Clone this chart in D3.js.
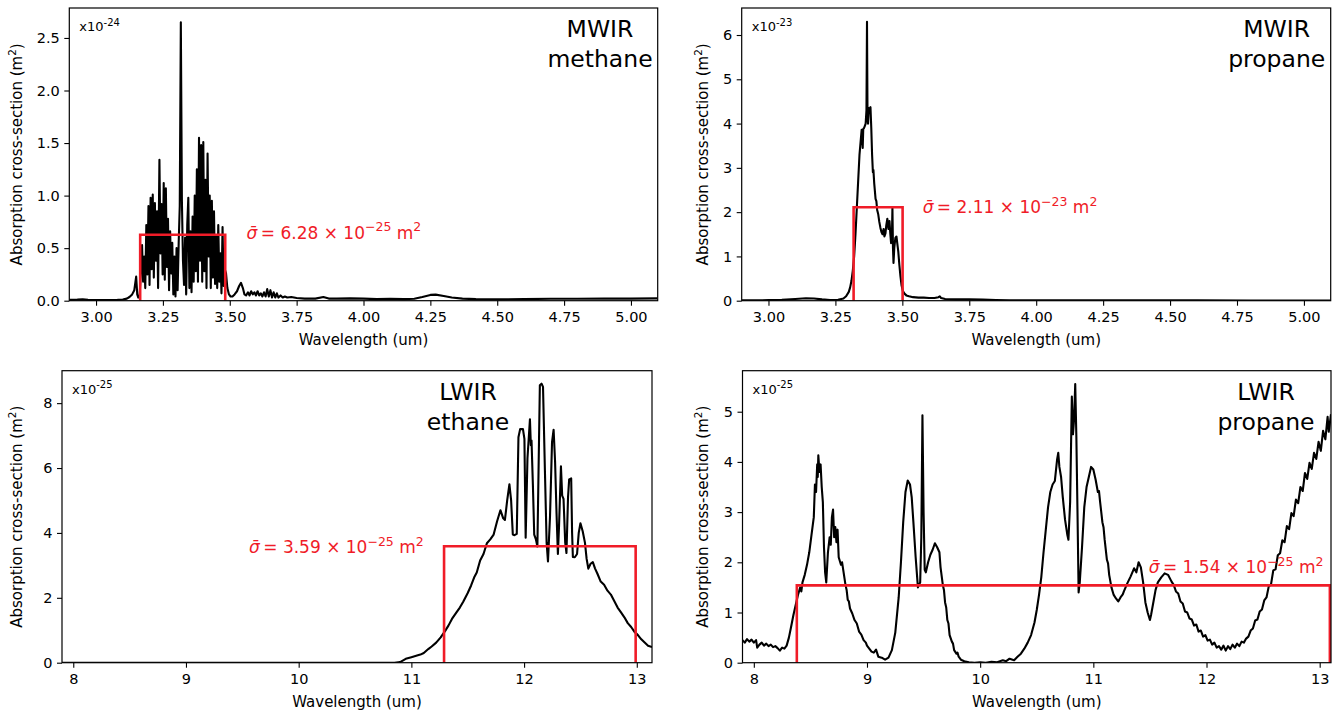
<!DOCTYPE html>
<html><head><meta charset="utf-8">
<script src="https://cdn.jsdelivr.net/npm/d3@7"></script>
<style>
body{margin:0;background:#fff}
svg{display:block}
text{font-family:"DejaVu Sans",sans-serif}
</style>
</head><body>
<svg id="c" width="1333" height="711"></svg>
<script>
// ---------------- DATA ----------------
const mwirTicks = [3.00, 3.25, 3.50, 3.75, 4.00, 4.25, 4.50, 4.75, 5.00];
const lwirTicks = [8, 9, 10, 11, 12, 13];
const methaneYTicks = [0, 0.5, 1.0, 1.5, 2.0, 2.5];
const propaneMwirYTicks = [0, 1, 2, 3, 4, 5, 6];
const ethaneYTicks = [0, 2, 4, 6, 8];
const propaneLwirYTicks = [0, 1, 2, 3, 4, 5];

// wavelength (um), cross-section (in units of the panel exponent)
const methaneSpectrum = [
[2.90,0.008],[2.93,0.010],[2.95,0.013],[2.97,0.008],[3.00,0.006],[3.05,0.006],[3.08,0.008],[3.10,0.012],[3.115,0.02],[3.125,0.035],[3.135,0.06],[3.143,0.10],[3.150,0.23],[3.154,0.06],[3.158,0.03],[3.163,0.05],
[3.168,0.30],[3.172,0.53],[3.176,0.18],[3.180,0.42],[3.184,0.12],[3.188,0.72],[3.192,0.25],[3.196,0.90],[3.200,0.15],[3.204,0.98],[3.208,0.30],[3.212,1.01],[3.216,0.22],[3.220,0.93],[3.224,0.38],[3.228,0.85],[3.232,0.12],[3.237,1.34],[3.241,0.45],[3.245,0.92],[3.249,0.25],[3.253,1.12],[3.257,0.20],[3.261,1.07],[3.265,0.32],[3.269,0.78],[3.273,0.10],[3.277,0.66],[3.281,0.26],[3.285,0.55],[3.289,0.06],[3.293,0.42],[3.297,0.04],[3.301,0.50],[3.305,0.10],[3.309,0.55],[3.313,0.90],[3.317,2.65],[3.321,0.95],[3.325,0.38],[3.329,0.15],[3.333,0.60],[3.337,0.06],[3.341,0.72],[3.345,0.98],[3.349,0.12],[3.353,0.66],[3.357,0.08],[3.361,0.80],[3.365,0.18],[3.369,1.00],[3.373,0.28],[3.377,1.25],[3.381,0.18],[3.385,1.55],[3.389,0.38],[3.393,1.48],[3.397,0.18],[3.401,1.51],[3.405,0.28],[3.409,1.15],[3.413,0.12],[3.417,1.40],[3.421,0.42],[3.425,1.00],[3.429,0.12],[3.433,0.95],[3.437,0.22],[3.441,0.85],[3.445,0.16],[3.449,0.62],[3.453,0.12],[3.457,0.72],[3.461,0.18],[3.465,0.45],[3.469,0.07],[3.473,0.70],[3.477,0.14],[3.481,0.30],[3.486,0.26],[3.491,0.12],[3.497,0.06],[3.503,0.04],[3.510,0.04],[3.518,0.06],[3.527,0.09],[3.535,0.14],[3.542,0.17],[3.549,0.12],[3.555,0.06],[3.561,0.05],[3.568,0.08],[3.574,0.05],[3.580,0.09],[3.586,0.06],[3.592,0.08],[3.598,0.05],[3.604,0.09],[3.610,0.05],[3.616,0.07],[3.622,0.04],[3.628,0.08],[3.634,0.04],[3.640,0.11],[3.646,0.04],[3.652,0.10],[3.658,0.03],[3.664,0.08],[3.670,0.03],[3.676,0.07],[3.682,0.03],[3.690,0.05],[3.698,0.03],[3.706,0.04],[3.715,0.03],[3.73,0.035],[3.75,0.025],[3.78,0.02],[3.82,0.02],[3.85,0.035],[3.87,0.02],[3.90,0.02],[3.95,0.022],[4.00,0.02],[4.05,0.015],[4.10,0.018],[4.15,0.015],[4.19,0.018],[4.22,0.035],[4.25,0.055],[4.27,0.058],[4.30,0.045],[4.33,0.03],[4.37,0.02],[4.42,0.015],[4.50,0.013],[4.60,0.015],[4.70,0.018],[4.80,0.018],[4.90,0.02],[5.00,0.02],[5.10,0.022]
];

const propaneMwirSpectrum = [
[2.90,0.01],[2.95,0.01],[3.00,0.012],[3.05,0.02],[3.10,0.04],[3.14,0.055],[3.17,0.05],[3.20,0.03],[3.23,0.015],[3.26,0.02],[3.28,0.05],[3.29,0.10],[3.30,0.20],[3.305,0.30],[3.31,0.45],[3.315,0.68],[3.32,1.00],[3.325,1.50],[3.330,2.10],[3.335,2.70],[3.340,3.30],[3.345,3.65],[3.348,3.86],[3.350,3.70],[3.352,3.45],[3.354,3.88],[3.357,3.90],[3.360,3.95],[3.363,4.00],[3.366,4.30],[3.368,6.30],[3.370,4.10],[3.372,4.00],[3.375,4.35],[3.378,4.30],[3.381,4.37],[3.384,3.90],[3.387,3.30],[3.390,2.90],[3.392,2.95],[3.395,2.65],[3.400,2.30],[3.403,2.25],[3.406,2.05],[3.410,1.95],[3.414,1.78],[3.418,1.65],[3.422,1.55],[3.426,1.50],[3.430,1.62],[3.433,1.45],[3.437,1.52],[3.440,1.70],[3.444,1.85],[3.448,1.62],[3.452,1.80],[3.455,1.52],[3.458,1.30],[3.461,1.40],[3.463,2.10],[3.465,1.20],[3.467,0.85],[3.470,1.20],[3.474,1.42],[3.478,1.45],[3.481,1.30],[3.485,1.10],[3.489,0.80],[3.493,0.55],[3.497,0.35],[3.502,0.22],[3.508,0.16],[3.515,0.12],[3.525,0.10],[3.54,0.08],[3.56,0.07],[3.58,0.07],[3.60,0.06],[3.62,0.06],[3.635,0.08],[3.64,0.10],[3.645,0.06],[3.66,0.04],[3.70,0.03],[3.75,0.03],[3.80,0.025],[3.85,0.015],[3.90,0.01],[4.00,0.008],[4.20,0.01],[4.40,0.008],[4.60,0.008],[4.80,0.006],[5.10,0.006]
];

const ethaneSpectrum = [
[7.90,0],[8.50,0],[9.00,0],[10.00,0],[10.50,0],[10.85,0],[10.90,0.02],[10.95,0.12],[11.00,0.17],[11.05,0.22],[11.08,0.25],[11.11,0.30],[11.15,0.42],[11.18,0.50],[11.22,0.62],[11.26,0.78],[11.30,0.98],[11.33,1.15],[11.36,1.35],[11.40,1.55],[11.43,1.70],[11.46,1.88],[11.50,2.15],[11.53,2.38],[11.56,2.65],[11.58,2.78],[11.61,3.15],[11.64,3.35],[11.67,3.68],[11.70,3.80],[11.73,3.95],[11.76,4.35],[11.79,4.70],[11.815,4.45],[11.83,4.40],[11.85,5.00],[11.87,5.50],[11.885,5.00],[11.90,3.95],[11.915,3.93],[11.935,3.97],[11.95,6.95],[11.965,7.20],[11.99,7.20],[12.003,6.90],[12.014,3.85],[12.03,6.30],[12.052,7.50],[12.06,6.70],[12.066,6.85],[12.078,5.50],[12.09,3.95],[12.105,3.80],[12.118,3.58],[12.14,8.55],[12.155,8.60],[12.168,8.50],[12.185,5.90],[12.20,3.70],[12.212,3.12],[12.23,4.50],[12.248,6.80],[12.262,7.18],[12.275,6.20],[12.288,4.60],[12.30,3.35],[12.31,4.20],[12.327,6.05],[12.338,5.15],[12.35,5.05],[12.365,3.70],[12.376,3.38],[12.39,5.10],[12.40,5.65],[12.418,5.68],[12.426,4.00],[12.433,3.26],[12.45,3.25],[12.47,3.35],[12.485,4.00],[12.50,4.30],[12.52,4.05],[12.54,3.70],[12.555,3.20],[12.57,2.90],[12.59,3.05],[12.61,3.10],[12.63,2.90],[12.65,2.75],[12.68,2.50],[12.71,2.40],[12.74,2.22],[12.77,2.10],[12.80,1.90],[12.83,1.70],[12.86,1.55],[12.89,1.40],[12.92,1.22],[12.95,1.10],[12.98,0.95],[13.01,0.85],[13.04,0.72],[13.07,0.62],[13.10,0.52],[13.135,0.48]
];

const propaneLwirSpectrum = [
[7.90,0.45],[7.92,0.40],[7.94,0.47],[7.96,0.42],[7.98,0.46],[8.00,0.40],[8.02,0.45],[8.03,0.30],[8.05,0.36],[8.07,0.40],[8.09,0.34],[8.11,0.38],[8.13,0.33],[8.15,0.36],[8.17,0.31],[8.19,0.33],[8.21,0.29],[8.23,0.24],[8.25,0.30],[8.27,0.28],[8.29,0.34],[8.31,0.50],[8.33,0.72],[8.35,0.95],[8.37,1.15],[8.39,1.35],[8.41,1.50],[8.42,1.42],[8.43,1.60],[8.45,1.75],[8.47,1.95],[8.49,2.20],[8.51,2.55],[8.53,2.90],[8.54,3.55],[8.55,3.40],[8.56,3.95],[8.565,3.70],[8.57,4.13],[8.58,3.80],[8.59,3.95],[8.60,3.50],[8.61,3.20],[8.62,2.30],[8.63,1.80],[8.64,1.60],[8.655,2.20],[8.67,2.50],[8.68,2.35],[8.69,2.90],[8.70,3.05],[8.71,2.50],[8.72,2.70],[8.73,2.40],[8.74,2.65],[8.75,2.10],[8.77,1.95],[8.78,2.00],[8.79,1.85],[8.81,1.55],[8.82,1.45],[8.83,1.25],[8.84,1.22],[8.85,1.08],[8.87,0.98],[8.89,0.85],[8.91,0.78],[8.93,0.62],[8.95,0.56],[8.97,0.45],[8.99,0.40],[9.00,0.34],[9.02,0.28],[9.04,0.22],[9.06,0.20],[9.08,0.26],[9.10,0.12],[9.13,0.10],[9.16,0.06],[9.19,0.10],[9.22,0.25],[9.25,0.60],[9.28,1.30],[9.30,2.00],[9.32,2.80],[9.34,3.40],[9.36,3.63],[9.38,3.55],[9.395,3.30],[9.41,2.80],[9.43,2.10],[9.45,1.50],[9.47,1.60],[9.48,2.50],[9.49,4.93],[9.50,3.00],[9.51,1.85],[9.52,1.80],[9.54,2.00],[9.56,2.15],[9.58,2.25],[9.60,2.38],[9.62,2.30],[9.64,2.20],[9.65,1.90],[9.67,1.55],[9.68,1.45],[9.69,1.20],[9.70,1.10],[9.71,0.85],[9.72,0.78],[9.73,0.55],[9.75,0.42],[9.76,0.38],[9.77,0.25],[9.79,0.18],[9.80,0.20],[9.81,0.12],[9.83,0.06],[9.86,0.03],[9.90,0.01],[9.95,0.00],[10.00,0.01],[10.05,0.00],[10.10,0.02],[10.15,0.01],[10.20,0.05],[10.23,0.03],[10.26,0.08],[10.30,0.05],[10.33,0.12],[10.36,0.18],[10.39,0.28],[10.42,0.40],[10.45,0.55],[10.48,0.80],[10.50,1.05],[10.52,1.35],[10.54,1.70],[10.56,2.20],[10.58,2.65],[10.60,3.10],[10.62,3.40],[10.64,3.55],[10.66,3.62],[10.68,4.05],[10.69,4.18],[10.70,3.90],[10.715,3.70],[10.73,3.30],[10.75,2.85],[10.77,2.55],[10.78,2.45],[10.795,3.20],[10.81,5.30],[10.82,4.55],[10.83,4.85],[10.84,5.55],[10.85,4.50],[10.86,3.00],[10.87,1.40],[10.88,1.60],[10.90,2.30],[10.92,3.10],[10.94,3.50],[10.96,3.70],[10.98,3.90],[11.00,3.85],[11.02,3.65],[11.04,3.40],[11.05,3.42],[11.06,3.20],[11.08,2.80],[11.09,2.70],[11.10,2.45],[11.12,2.05],[11.13,1.98],[11.14,1.75],[11.16,1.50],[11.18,1.35],[11.20,1.28],[11.22,1.22],[11.24,1.30],[11.26,1.36],[11.27,1.42],[11.30,1.58],[11.33,1.72],[11.36,1.88],[11.38,1.80],[11.40,2.00],[11.42,1.90],[11.44,1.60],[11.46,1.20],[11.48,1.00],[11.50,0.85],[11.51,0.95],[11.53,1.20],[11.55,1.45],[11.57,1.60],[11.60,1.70],[11.63,1.78],[11.66,1.75],[11.69,1.62],[11.71,1.55],[11.73,1.42],[11.75,1.38],[11.77,1.22],[11.79,1.18],[11.81,1.02],[11.83,1.00],[11.85,0.88],[11.87,0.86],[11.89,0.74],[11.91,0.76],[11.93,0.62],[11.95,0.64],[11.97,0.52],[11.99,0.55],[12.01,0.44],[12.03,0.46],[12.05,0.36],[12.07,0.40],[12.09,0.30],[12.11,0.33],[12.13,0.26],[12.15,0.34],[12.17,0.24],[12.19,0.33],[12.21,0.27],[12.23,0.36],[12.25,0.30],[12.27,0.38],[12.29,0.33],[12.31,0.42],[12.33,0.40],[12.35,0.48],[12.37,0.52],[12.39,0.64],[12.41,0.68],[12.43,0.84],[12.45,0.86],[12.47,1.02],[12.49,1.06],[12.51,1.24],[12.53,1.30],[12.55,1.52],[12.57,1.56],[12.59,1.84],[12.61,1.86],[12.63,2.14],[12.65,2.18],[12.67,2.44],[12.69,2.40],[12.71,2.72],[12.73,2.66],[12.75,2.98],[12.77,2.92],[12.79,3.25],[12.81,3.18],[12.83,3.50],[12.85,3.42],[12.87,3.78],[12.89,3.66],[12.91,3.98],[12.93,3.86],[12.95,4.18],[12.97,4.06],[12.99,4.40],[13.01,4.22],[13.03,4.62],[13.05,4.45],[13.07,4.90],[13.08,4.60],[13.10,4.95]
];

// averaging bands [start, end] (um) and mean cross-sections
const methaneBand = [3.165, 3.483];       const methaneMean = 0.628;
const propaneMwirBand = [3.318, 3.501];   const propaneMwirMean = 2.11;
const ethaneBand = [11.29, 12.99];        const ethaneMean = 3.59;
const propaneLwirBand = [8.38, 13.09];    const propaneLwirMean = 1.54;

// ---------------- LAYOUT ----------------
const RED = "#f01c28";
const panels = [
  {box:[69.3, 8, 657.7, 300.7], xd:[2.9, 5.1], ymax:2.785, xt:mwirTicks, xf:d3.format(".2f"), yt:methaneYTicks, yf:d3.format(".1f"),
   data:methaneSpectrum, band:methaneBand, mean:methaneMean, exp:"-24", mant:"6.28", mexp:"\u221225",
   title:["MWIR","methane"], tcx:530.7, note:[3.563, 0.59], ylabX:22},
  {box:[741.7, 8, 1330.7, 300.7], xd:[2.9, 5.1], ymax:6.61, xt:mwirTicks, xf:d3.format(".2f"), yt:propaneMwirYTicks, yf:d3.format("d"),
   data:propaneMwirSpectrum, band:propaneMwirBand, mean:propaneMwirMean, exp:"-23", mant:"2.11", mexp:"\u221223",
   title:["MWIR","propane"], tcx:535, note:[3.576, 1.98], ylabX:708},
  {box:[62, 370.7, 652, 662.7], xd:[7.9, 13.135], ymax:9.0, xt:lwirTicks, xf:d3.format("d"), yt:ethaneYTicks, yf:d3.format("d"),
   data:ethaneSpectrum, band:ethaneBand, mean:ethaneMean, exp:"-25", mant:"3.59", mexp:"\u221225",
   title:["LWIR","ethane"], tcx:406, note:[9.56, 3.38], ylabX:22},
  {box:[742.5, 370.7, 1331, 662.7], xd:[7.9, 13.1], ymax:5.817, xt:lwirTicks, xf:d3.format("d"), yt:propaneLwirYTicks, yf:d3.format("d"),
   data:propaneLwirSpectrum, band:propaneLwirBand, mean:propaneLwirMean, exp:"-25", mant:"1.54", mexp:"\u221225",
   title:["LWIR","propane"], tcx:523.5, note:[11.49, 1.78], ylabX:708}
];

const svg = d3.select("#c");
svg.append("rect").attr("width",1333).attr("height",711).attr("fill","#fff");

panels.forEach((p, i) => {
  const [L, T, R, B] = p.box;
  const x = d3.scaleLinear().domain(p.xd).range([L, R]);
  const y = d3.scaleLinear().domain([0, p.ymax]).range([B, T]);
  const g = svg.append("g");

  const clipId = "clip" + i;
  svg.append("defs").append("clipPath").attr("id", clipId)
    .append("rect").attr("x", L).attr("y", T - 2).attr("width", R - L).attr("height", B - T + 2);

  // spectrum
  const line = d3.line().x(d => x(d[0])).y(d => y(d[1]));
  g.append("path").datum(p.data).attr("clip-path", `url(#${clipId})`)
    .attr("d", line).attr("fill", "none").attr("stroke", "#000")
    .attr("stroke-width", 2.1).attr("stroke-linejoin", "round");

  // band box (mean over band)
  const boxPts = [[p.band[0], 0], [p.band[0], p.mean], [p.band[1], p.mean], [p.band[1], 0]];
  g.append("path").datum(boxPts).attr("clip-path", `url(#${clipId})`)
    .attr("d", line).attr("fill", "none").attr("stroke", RED)
    .attr("stroke-width", 2.6).attr("stroke-linejoin", "miter");

  // axes
  const xa = d3.axisBottom(x).tickValues(p.xt).tickFormat(p.xf).tickSize(5).tickPadding(6.3);
  const ya = d3.axisLeft(y).tickValues(p.yt).tickFormat(p.yf).tickSize(5).tickPadding(4.5);
  const gx = g.append("g").attr("transform", `translate(0,${B})`).call(xa);
  const gy = g.append("g").attr("transform", `translate(${L},0)`).call(ya);
  [gx, gy].forEach(a => {
    a.select(".domain").remove();
    a.selectAll("line").attr("stroke", "#000").attr("stroke-width", 1.1);
    a.selectAll("text").attr("fill", "#000").style("font-size", "14.5px").style("font-family", '"DejaVu Sans", sans-serif');
  });

  // frame
  g.append("rect").attr("x", L).attr("y", T).attr("width", R - L).attr("height", B - T)
    .attr("fill", "none").attr("stroke", "#000").attr("stroke-width", 1.2);

  // exponent label
  const ex = g.append("text").attr("x", L + 10).attr("y", T + 23).style("font-size", "13px").attr("fill", "#000");
  ex.append("tspan").text("x10");
  ex.append("tspan").attr("dy", -5.5).style("font-size", "10px").text(p.exp);

  // title
  const cx = L + p.tcx;
  p.title.forEach((t, k) => {
    g.append("text").attr("x", cx).attr("y", T + 29 + 30 * k).attr("text-anchor", "middle")
      .style("font-size", "23.5px").attr("fill", "#000").text(t);
  });

  // mean annotation
  const nt = g.append("text").attr("x", x(p.note[0])).attr("y", y(p.note[1]))
    .style("font-size", "17px").attr("fill", RED);
  nt.append("tspan").style("font-style", "italic").text("\u03C3\u0304");
  nt.append("tspan").text("\u2009= " + p.mant + " \u00D7 10");
  nt.append("tspan").attr("dy", -7.5).style("font-size", "12.5px").text(p.mexp);
  nt.append("tspan").attr("dy", 7.5).text(" m");
  nt.append("tspan").attr("dy", -7.5).style("font-size", "12.5px").text("2");

  // axis labels
  g.append("text").attr("x", (L + R) / 2).attr("y", B + 44.3).attr("text-anchor", "middle")
    .style("font-size", "15px").attr("fill", "#000").text("Wavelength (um)");
  const yl = g.append("text").attr("transform", `translate(${p.ylabX},${(T + B) / 2}) rotate(-90)`)
    .attr("text-anchor", "middle").style("font-size", "15px").attr("fill", "#000");
  yl.append("tspan").text("Absorption cross-section (m");
  yl.append("tspan").attr("dy", -6).style("font-size", "10.5px").text("2");
  yl.append("tspan").attr("dy", 6).text(")");
});
</script>
</body></html>
